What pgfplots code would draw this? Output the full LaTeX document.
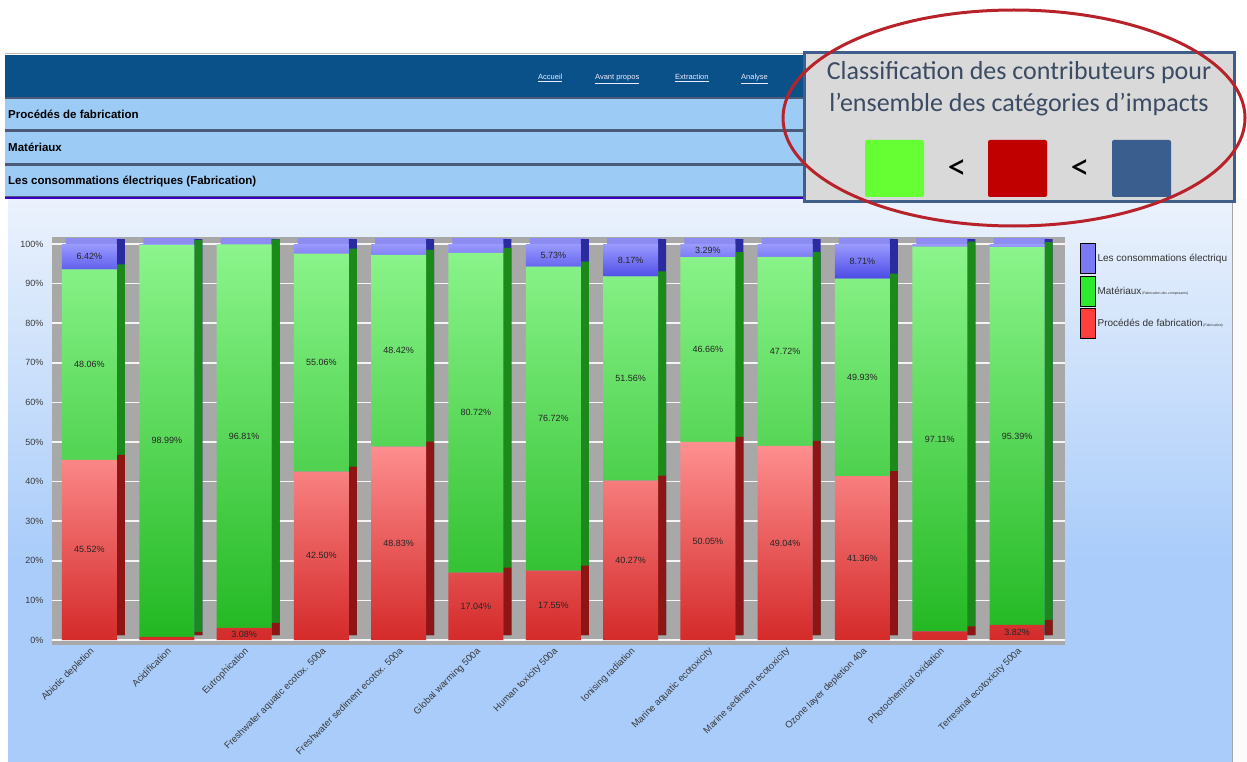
\documentclass[border=0pt]{standalone}
\usepackage{pgfplots}
\pgfplotsset{compat=1.18}
\usepackage{pgfplotstable}
\usepackage{fontspec}
\setmainfont{Liberation Sans}
\newfontfamily\calibri{Carlito}

% page furniture
\definecolor{hdrblue}{HTML}{0B5189}
\definecolor{secblue}{HTML}{9CCBF6}
\definecolor{secline}{HTML}{4B5A78}
\definecolor{panelTop}{HTML}{EBF2FC}
\definecolor{panelBot}{HTML}{A9CCFA}
\definecolor{callfill}{HTML}{D9D9D9}
\definecolor{callline}{HTML}{3F5F8A}
\definecolor{calltext}{HTML}{3B4B63}
\definecolor{ringred}{HTML}{B8232B}
\definecolor{sqgreen}{HTML}{66FF33}
\definecolor{sqred}{HTML}{C00000}
\definecolor{sqblue}{HTML}{3A5F8F}
% chart colours
\definecolor{wallgrey}{HTML}{A8A8A8}
\definecolor{ticktext}{HTML}{3A3A3A}
\definecolor{redTop}{HTML}{FF9090}
\definecolor{redMid}{HTML}{FF3E3E}
\definecolor{redBot}{HTML}{D42A2A}
\definecolor{redSide}{HTML}{8E1515}
\definecolor{grnTop}{HTML}{8CF58C}
\definecolor{grnMid}{HTML}{2EEB2E}
\definecolor{grnBot}{HTML}{22B822}
\definecolor{grnSide}{HTML}{1B8A1B}
\definecolor{bluTop}{HTML}{9A9AFF}
\definecolor{bluBot}{HTML}{4B4BE6}
\definecolor{bluSide}{HTML}{2B2BA0}
\definecolor{bluCap}{HTML}{8C8CF2}

% share of each contributor (%) per impact category
% r = Procédés de fabrication, g = Matériaux, b = consommations électriques
\pgfplotstableread{
x  r      g      b
0  45.52  48.06  6.42
1  0.80   98.99  0.21
2  3.08   96.81  0.11
3  42.50  55.06  2.44
4  48.83  48.42  2.75
5  17.04  80.72  2.24
6  17.55  76.72  5.73
7  40.27  51.56  8.17
8  50.05  46.66  3.29
9  49.04  47.72  3.24
10 41.36  49.93  8.71
11 2.20   97.11  0.69
12 3.82   95.39  0.79
}\impacts

\pgfplotsset{
  chartframe/.style={
    scale only axis, width=1013pt, height=408pt,
    at={(52pt,-645pt)}, anchor=south west,
    xmin=-0.485, xmax=12.62, ymin=-1.26, ymax=101.77,
    axis line style={draw=none}, tick style={draw=none},
    clip=false,
  },
}

\begin{document}
\begin{tikzpicture}
\path[use as bounding box] (0pt,0pt) rectangle (1247pt,-762pt);

\begin{scope}[x=1pt,y=-1pt]
  \fill[white] (0,0) rectangle (1247,762);
  % chart panel
  \shade[top color=panelTop, bottom color=panelBot] (8,198) rectangle (1232,560);
  \fill[panelBot] (8,559) rectangle (1232,762);
  \fill[white!97!gray] (1232,198) rectangle (1247,762);
  \draw[gray!70, line width=1pt] (1232,198) -- (1232,762);
  % top navigation bar
  \draw[gray!50, line width=1pt] (5,54) -- (810,54);
  \fill[hdrblue] (5,55) rectangle (810,97);
  \foreach \lx/\lt in {538/Accueil, 595/Avant propos, 675/Extraction, 741/Analyse}
    \node[anchor=base west, inner sep=0, text=white!92!blue, font=\fontsize{7.5}{8}\selectfont] at (\lx,80) {\underline{\lt}};
  % section bars
  \foreach \t/\b/\lab in {98/130/{Procédés de fabrication}, 131/164/{Matériaux}, 165/197/{Les consommations électriques (Fabrication)}}{
    \fill[secblue] (5,\t) rectangle (806,\b);
    \draw[secline, line width=1.3pt] (5,\t) -- (806,\t);
    \draw[secline, line width=1.3pt] (5,\b) -- (806,\b);
    \draw[secline, line width=1pt] (806,\t) -- (806,\b);
    \node[anchor=west, inner sep=0, font=\bfseries\fontsize{11.5}{13}\selectfont] at (8,{(\t+\b)/2}) {\lab};
  }
  \draw[blue!55!violet, line width=1.3pt] (5,198) -- (806,198);
\end{scope}

% back layer: wall, grid, tick labels, bar sides and caps
\begin{axis}[chartframe,
  axis background/.style={fill=wallgrey},
  ymajorgrids, grid style={white!92!gray, line width=1.6pt},
  ytick={0,10,...,100},
  yticklabel={\pgfmathprintnumber{\tick}\%},
  /pgf/number format/assume math mode=true,
  yticklabel style={font=\fontsize{9}{10}\selectfont, text=ticktext, xshift=-5pt},
  xtick={0,...,12},
  xticklabels={Abiotic depletion, Acidification, Eutrophication,
    Freshwater aquatic ecotox. 500a, Freshwater sediment ecotox. 500a,
    Global warming 500a, Human toxicity 500a, Ionising radiation,
    Marine aquatic ecotoxicity, Marine sediment ecotoxicity,
    Ozone layer depletion 40a, Photochemical oxidation,
    Terrestrial ecotoxicity 500a},
  xticklabel style={rotate=45, anchor=north east, inner sep=1pt,
    font=\fontsize{9.5}{10}\selectfont, text=ticktext},
]
  % caps
  \addplot[ybar, bar width=55pt, bar shift=4pt, fill=bluCap, draw=none, yshift=6pt]
    table[x=x, y expr=\thisrow{r}+\thisrow{g}+\thisrow{b}] {\impacts};
  % side faces
  \addplot[ybar, bar width=8pt, bar shift=31.5pt, fill=bluSide, draw=none, yshift=5pt]
    table[x=x, y expr=\thisrow{r}+\thisrow{g}+\thisrow{b}] {\impacts};
  \addplot[ybar, bar width=8pt, bar shift=31.5pt, fill=grnSide, draw=none, yshift=5pt]
    table[x=x, y expr=\thisrow{r}+\thisrow{g}] {\impacts};
  \addplot[ybar, bar width=8pt, bar shift=31.5pt, fill=redSide, draw=none, yshift=5pt]
    table[x=x, y=r] {\impacts};
\end{axis}

% front faces
\begin{axis}[chartframe, hide axis, ybar stacked, bar width=55pt]
  \addplot[draw=none, top color=redTop, middle color=redMid, bottom color=redBot]
    table[x=x, y=r] {\impacts};
  \addplot[draw=none, top color=grnTop, middle color=grnMid, bottom color=grnBot]
    table[x=x, y=g] {\impacts};
  \addplot[draw=none, top color=bluTop, bottom color=bluBot]
    table[x=x, y=b] {\impacts};
\end{axis}

% value labels and legend
\begin{axis}[chartframe, hide axis,
  point meta=explicit,
  /pgf/number format/assume math mode=true,
  nodes near coords={\pgfmathprintnumber[fixed, fixed zerofill, precision=2]{\pgfplotspointmeta}\%},
  every node near coord/.style={anchor=center, font=\fontsize{9}{10}\selectfont, text=black!85},
  legend style={at={(1.0148,0.985)}, anchor=north west, draw=none, fill=none,
    font=\fontsize{10}{11}\selectfont, text=black!80, row sep=2pt,
    inner sep=0pt, cells={anchor=west}},
  legend image code/.code={\fill[#1] (0pt,-14.5pt) rectangle (15pt,15.5pt);},
]
  \addlegendimage{fill=bluTop!60!bluBot}
  \addlegendentry{Les consommations électriqu}
  \addlegendimage{fill=grnMid}
  \addlegendentry{Matériaux{\fontsize{3.5}{4}\selectfont\,(Fabrication des composants)}}
  \addlegendimage{fill=redMid}
  \addlegendentry{Procédés de fabrication{\fontsize{3.5}{4}\selectfont\,(Fabrication)}}

  \addplot[forget plot, draw=none, mark=none, restrict expr to domain={\thisrow{r}}{3:101}]
    table[x=x, y expr=\thisrow{r}/2, meta=r] {\impacts};
  \addplot[forget plot, draw=none, mark=none, restrict expr to domain={\thisrow{g}}{3:101}]
    table[x=x, y expr=\thisrow{r}+\thisrow{g}/2, meta=g] {\impacts};
  \addplot[forget plot, draw=none, mark=none, restrict expr to domain={\thisrow{b}}{3.25:101}]
    table[x=x, y expr=\thisrow{r}+\thisrow{g}+\thisrow{b}/2, meta=b] {\impacts};
\end{axis}

% callout
\begin{scope}[x=1pt,y=-1pt]
  \draw[callline, line width=3pt, fill=callfill] (804,53) rectangle (1234,202);
  \node[text=calltext, font=\calibri\fontsize{26}{32}\selectfont, align=center] at (1019,89)
    {Classification des contributeurs pour\\l’ensemble des catégories d’impacts};
  \fill[sqgreen, rounded corners=2pt] (865,140) rectangle (924,197);
  \fill[sqred, rounded corners=2pt] (988,140) rectangle (1047,197);
  \fill[sqblue, rounded corners=2pt] (1112,140) rectangle (1171,197);
  \node[font=\calibri\fontsize{38}{38}\selectfont] at (957,170) {<};
  \node[font=\calibri\fontsize{38}{38}\selectfont] at (1080,170) {<};
  \draw[ringred, line width=3pt] (1014,118) ellipse [x radius=231pt, y radius=108pt];
\end{scope}
\end{tikzpicture}
\end{document}
